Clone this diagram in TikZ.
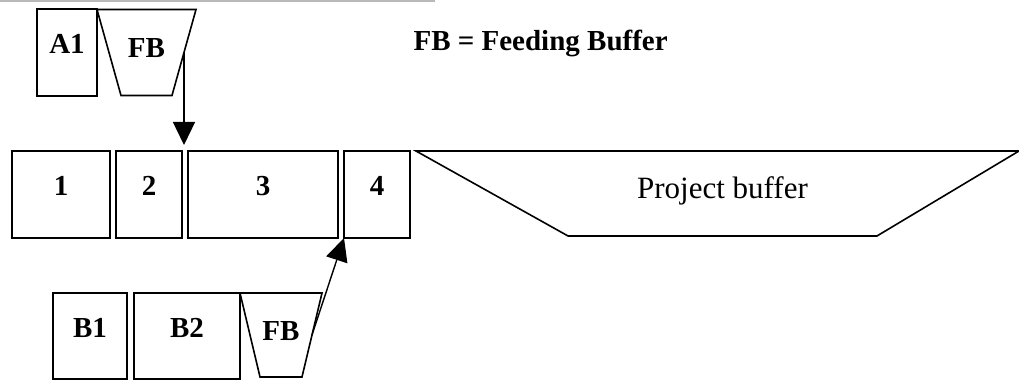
\documentclass[tikz,border=0pt]{standalone}
\usepackage{fontspec}
\setmainfont{Liberation Serif}
\usetikzlibrary{arrows.meta,positioning,shapes.geometric}

\tikzset{
  task/.style={draw, black, line width=1.6pt, inner sep=0pt, outer sep=0pt,
    minimum height=87pt, text height=20pt, text depth=18pt,
    font=\fontsize{29}{34}\selectfont\bfseries},
  buffer/.style={draw, black, line width=1.6pt, trapezium, shape border rotate=180,
    trapezium stretches body=true, inner xsep=0pt, outer sep=0pt,
    text height=20pt, text depth=10pt, font=\fontsize{29}{34}\selectfont\bfseries},
  feed/.style={black, line width=1.4pt, -{Triangle[width=22pt,length=23pt]}}
}

\begin{document}
\begin{tikzpicture}[x=1pt,y=1pt]
  \useasboundingbox (0,0) rectangle (1019,380);
  \fill [gray!55] (0,378) rectangle (435,380);

  % main chain
  \node [task, minimum width=98pt] (n1) at (61,185.5) {1};
  \node [task, minimum width=66pt, right=6pt of n1] (n2) {2};
  \node [task, minimum width=150pt, right=6pt of n2] (n3) {3};
  \node [task, minimum width=66pt, right=6pt of n3] (n4) {4};
  \node [buffer, minimum width=603pt, inner ysep=26.25pt, trapezium left angle=30.9, trapezium right angle=29.2,
    text height=21pt, text depth=11.5pt, font=\fontsize{31}{36}\selectfont] (pb) at (722.5,186.5) {Project buffer};

  % feeding chain A
  \node [task, minimum width=60pt] (a1) at (67,327.5) {A1};
  \node [buffer, minimum width=99pt, inner ysep=28pt, trapezium angle=74.4] (fa) at (146.5,327.5) {FB};

  % feeding chain B
  \node [task, minimum width=74pt, minimum height=86pt] (b1) at (90,44) {B1};
  \node [task, minimum width=106pt, minimum height=86pt, right=7pt of b1] (b2) {B2};
  \node [buffer, minimum width=82pt, inner ysep=27pt, trapezium angle=76.6] (fb) at (281,45) {FB};

  \node [font=\fontsize{29}{34}\selectfont\bfseries, anchor=base west] (key) at (410,329) {FB = Feeding Buffer};

  % feeding arrows
  \draw [feed, shorten >=6pt] (fa.east) -- (fa.east |- n3.north);
  \draw [feed] (fb.east) -- (n4.south west);
\end{tikzpicture}
\end{document}
